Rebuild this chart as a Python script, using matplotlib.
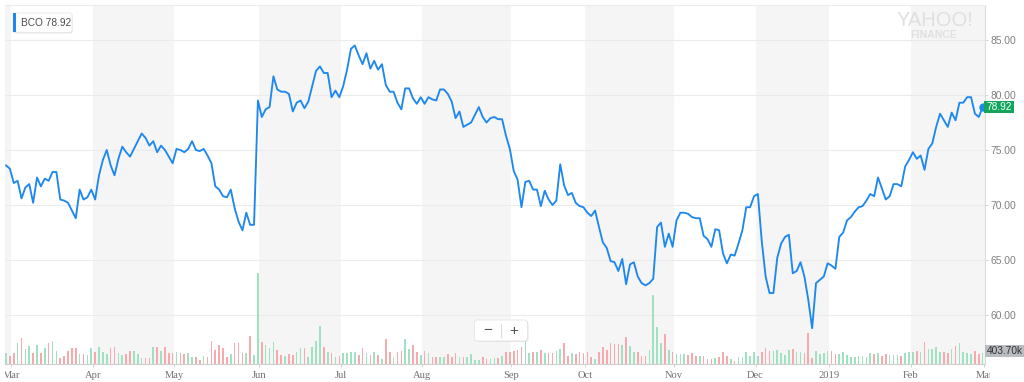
import matplotlib
matplotlib.use("Agg")
import matplotlib.pyplot as plt
from matplotlib.patches import FancyBboxPatch, Rectangle
from matplotlib.transforms import Bbox, TransformedBbox
import numpy as np

plt.rcParams['font.family'] = ['Liberation Sans', 'DejaVu Sans']

# ---------------- data ----------------
ticker = "BCO"

close = [
    73.6, 73.3, 72.0, 72.2, 70.6, 71.6, 71.9, 70.2, 72.5, 71.7,
    72.4, 72.2, 73.0, 73.0, 70.5, 70.4, 70.2, 69.5, 68.8, 71.4,
    70.5, 70.7, 71.4, 70.5, 72.7, 74.1, 75.0, 73.6, 72.7, 74.2,
    75.3, 74.8, 74.4, 75.1, 75.8, 76.5, 76.1, 75.4, 75.8, 74.8,
    75.4, 75.0, 74.4, 73.8, 75.1, 75.0, 74.8, 75.1, 75.8, 75.0,
    74.9, 75.1, 74.5, 73.8, 71.7, 71.4, 70.8, 70.7, 71.4, 69.7,
    68.5, 67.7, 69.3, 68.2, 68.2, 79.5, 78.0, 78.7, 78.9, 81.7,
    80.5, 80.3, 80.3, 80.1, 78.5, 79.3, 79.5, 78.8, 79.4, 80.8,
    82.2, 82.6, 82.0, 82.0, 79.8, 80.4, 79.8, 80.8, 82.3, 84.2,
    84.5, 83.6, 82.8, 83.8, 82.4, 83.1, 82.3, 82.8, 80.9, 80.3,
    80.3, 79.3, 78.7, 80.6, 80.6, 79.7, 79.2, 79.8, 79.2, 79.8,
    79.6, 79.5, 80.5, 80.5, 80.1, 79.4, 77.9, 78.5, 77.1, 77.3,
    77.5, 78.2, 78.9, 78.0, 77.5, 77.9, 78.0, 77.8, 77.8, 76.3,
    75.1, 73.1, 72.3, 69.8, 72.1, 72.2, 71.4, 71.4, 69.9, 71.3,
    70.5, 70.0, 70.4, 73.7, 71.8, 70.9, 71.1, 70.2, 69.9, 69.8,
    69.3, 69.0, 69.5, 68.0, 66.6, 66.1, 64.9, 64.8, 64.0, 65.1,
    62.8, 64.6, 64.8, 63.5, 62.9, 62.7, 62.9, 63.3, 68.0, 68.4,
    66.2, 67.4, 66.2, 68.6, 69.3, 69.3, 69.2, 68.9, 68.8, 68.8,
    67.2, 66.9, 66.2, 67.8, 67.7, 65.6, 64.7, 65.5, 65.4, 66.5,
    67.7, 69.8, 69.8, 70.8, 71.0, 66.7, 63.5, 62.0, 62.0, 65.2,
    66.5, 67.1, 67.3, 63.8, 64.0, 64.8, 63.5, 61.4, 58.8, 62.9,
    63.2, 63.5, 64.7, 64.5, 64.2, 67.1, 67.5, 68.6, 68.9, 69.4,
    69.8, 69.9, 70.4, 71.0, 70.8, 72.5, 71.5, 70.5, 70.8, 71.9,
    71.9, 71.7, 73.5, 74.1, 74.8, 74.2, 74.5, 73.2, 75.1, 75.6,
    77.1, 78.3, 77.7, 77.1, 78.4, 77.7, 79.3, 79.3, 79.8, 79.8,
    78.3, 78.0, 78.92,
]

volume_k = [
    385, 288, 385, 745, 947, 540, 659, 385, 684, 407,
    565, 745, 828, 468, 205, 288, 468, 587, 565, 349,
    349, 324, 565, 443, 623, 443, 360, 587, 601, 385,
    324, 360, 468, 468, 349, 227, 227, 205, 623, 601,
    468, 623, 407, 407, 421, 385, 349, 385, 263, 263,
    144, 288, 263, 828, 504, 684, 587, 241, 349, 745,
    767, 385, 385, 1008, 324, 3276, 781, 684, 587, 781,
    504, 324, 299, 349, 324, 421, 565, 587, 241, 601,
    828, 1379, 623, 421, 385, 241, 299, 385, 385, 421,
    421, 324, 565, 407, 324, 421, 324, 180, 889, 421,
    241, 443, 479, 900, 540, 684, 443, 324, 479, 385,
    263, 241, 241, 263, 349, 263, 385, 263, 241, 241,
    349, 144, 144, 263, 169, 169, 205, 205, 288, 421,
    421, 468, 504, 601, 803, 385, 421, 443, 504, 385,
    385, 385, 468, 529, 745, 299, 385, 349, 421, 385,
    421, 263, 180, 443, 601, 504, 745, 720, 720, 684,
    983, 648, 443, 421, 288, 299, 504, 2484, 1343, 767,
    1080, 504, 421, 349, 360, 360, 324, 385, 288, 288,
    288, 169, 169, 205, 241, 421, 288, 169, 119, 241,
    263, 421, 288, 421, 299, 443, 565, 479, 479, 504,
    407, 324, 504, 529, 421, 421, 385, 1105, 205, 479,
    349, 385, 479, 479, 349, 349, 443, 324, 241, 241,
    288, 288, 263, 385, 349, 407, 288, 349, 324, 324,
    324, 299, 385, 421, 443, 479, 443, 803, 529, 529,
    601, 443, 421, 385, 529, 648, 767, 421, 385, 349,
    479, 349, 403.7,
]

month_labels = ["Mar", "Apr", "May", "Jun", "Jul", "Aug", "Sep",
                "Oct", "Nov", "Dec", "2019", "Feb", "Mar"]
month_start = [1, 22, 43, 65, 86, 107, 130, 149, 172, 193, 212, 233, 252]
price_ticks = [60, 65, 70, 75, 80, 85]

# ---------------- styling ----------------
LINE = '#1e88ee'
UP = '#a0e1c1'
DOWN = '#f7aaad'
BAND = '#f5f5f5'

W, H = 1024, 382
fig = plt.figure(figsize=(W / 100, H / 100), dpi=100)
fig.patch.set_facecolor('white')

L, R, T, B = 5, 985, 5, 364
rect = [L / W, 1 - B / H, (R - L) / W, (B - T) / H]

n = len(close)
idx = np.arange(n)
xlim = (-0.26, 252.6)
ylim = (55.55, 88.18)
ticks = [m + 0.4 for m in month_start]

# background axes: bands, grid, axis ticks
ax = fig.add_axes(rect)
ax.set_xlim(xlim)
ax.set_ylim(ylim)
ax.set_facecolor('white')
ax.axvspan(xlim[0], ticks[0], color=BAND, lw=0, zorder=0)
for i in range(1, len(ticks) - 1, 2):
    ax.axvspan(ticks[i], ticks[i + 1], color=BAND, lw=0, zorder=0)
ax.axvspan(ticks[-2], xlim[1], color=BAND, lw=0, zorder=0)
for p in price_ticks:
    ax.axhline(p, color='#ebebeb', lw=0.8, zorder=1)
for s in ['left']:
    ax.spines[s].set_visible(False)
ax.spines['top'].set_color('#ececec')
ax.spines['right'].set_color('#dcdcdc')
ax.spines['bottom'].set_color('#cfcfcf')
ax.yaxis.tick_right()
ax.set_yticks(price_ticks)
ax.set_yticklabels([f"{p:.2f}" for p in price_ticks])
ax.tick_params(axis='y', right=True, left=False, length=2.5, width=0.6,
               color='#cccccc', labelcolor='#808080', labelsize=7.4, pad=1.2)
ax.set_xticks(ticks)
ax.set_xticklabels([])
ax.tick_params(axis='x', length=2.5, width=0.6, color='#cccccc')

# volume axes
axv = fig.add_axes(rect, sharex=ax)
axv.patch.set_visible(False)
axv.set_ylim(0, (B - T) * 36.0)
vcolors = [UP if (i == 0 or close[i] >= close[i - 1]) else DOWN for i in range(n)]
axv.bar(idx, volume_k, width=0.42, color=vcolors, lw=0)
axv.axis('off')

# price line axes
axp = fig.add_axes(rect, sharex=ax)
axp.patch.set_visible(False)
axp.set_ylim(ylim)
axp.plot(idx, close, color=LINE, lw=1.35, solid_joinstyle='round')
axp.plot(idx[-1], close[-1], 'o', ms=5, color=LINE, clip_on=False)
axp.axis('off')
axp.set_xlim(xlim)

# overlay in pixel coordinates
ov = fig.add_axes([0, 0, 1, 1])
ov.set_xlim(0, W)
ov.set_ylim(H, 0)
ov.axis('off')
ov.patch.set_visible(False)

# month labels (clipped to plot)
clipbox = TransformedBbox(Bbox([[L, 0], [990, H]]), ov.transData)
for t, lab in zip(ticks, month_labels):
    xp = ax.transData.transform((t, ylim[0]))[0]
    txt = ov.text(xp, 375, lab, ha='center', va='center', fontsize=7.6,
                  color='#707070', family=['Liberation Serif', 'DejaVu Serif'])
    txt.set_clip_box(clipbox)
    txt.set_clip_on(True)

# legend box
ov.add_patch(FancyBboxPatch((13.5, 14), 59, 19.5, boxstyle="round,pad=0,rounding_size=2",
                            fc='#e9e9e9', ec='none', zorder=3))
ov.add_patch(FancyBboxPatch((13, 13), 59, 19.5, boxstyle="round,pad=0,rounding_size=2",
                            fc='white', ec='#e6e6e6', lw=0.6, zorder=4))
ov.add_patch(Rectangle((13, 13.3), 3.2, 19, fc=LINE, ec='none', zorder=5))
ov.text(21, 23.3, f"{ticker} {close[-1]:.2f}", ha='left', va='center', fontsize=7.3,
        color='#4d4d4d', zorder=6)

# watermark
ov.text(935, 21, "YAHOO!", ha='center', va='center', fontsize=14.5, color='#e0e0e0')
ov.text(934, 35.5, "FINANCE", ha='center', va='center', fontsize=7.6, color='#e0e0e0',
        weight='bold')

# last price label
ov.add_patch(Rectangle((984, 100.5), 29.5, 12.5, fc='#11a65c', ec='none'))
ov.text(998.8, 107, f"{close[-1]:.2f}", ha='center', va='center', fontsize=7.3, color='white')

# last volume label
ov.add_patch(Rectangle((985, 345), 39, 12, fc='#b9bcc1', ec='none'))
ov.text(1004.5, 351.2, f"{volume_k[-1]:.2f}k", ha='center', va='center', fontsize=7.3,
        color='#2f2f2f')

# zoom control
ov.add_patch(FancyBboxPatch((475.5, 321), 53, 21, boxstyle="round,pad=0,rounding_size=3",
                            fc='#e6e6e6', ec='none', zorder=3))
ov.add_patch(FancyBboxPatch((474.5, 320), 53, 21, boxstyle="round,pad=0,rounding_size=3",
                            fc='white', ec='#e3e3e3', lw=0.6, zorder=4))
ov.plot([501, 501], [324, 337], color='#dddddd', lw=0.8, zorder=5)
ov.text(488, 330.5, "\u2212", ha='center', va='center', fontsize=11, color='#555555', zorder=6)
ov.text(514, 330.5, "+", ha='center', va='center', fontsize=11, color='#555555', zorder=6)

fig.savefig("out.png", dpi=100)
